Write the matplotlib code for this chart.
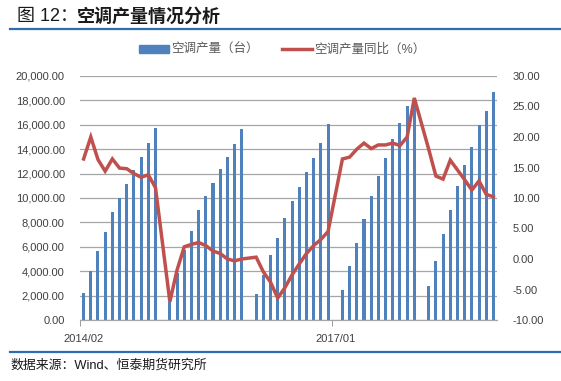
import numpy as np
import matplotlib.pyplot as plt
from matplotlib.lines import Line2D
from matplotlib.patches import Patch

plt.rcParams['font.family'] = ['Liberation Sans', 'Noto Sans CJK SC', 'DejaVu Sans']

# ============================================================
# Data (monthly cumulative, January not published -> None)
# ============================================================

years = [2014, 2015, 2016, 2017, 2018]

output_2014 = [None, 2186, 4016, 5656, 7213, 8852, 10000, 11148, 12295, 13388, 14508, 15716]
output_2015 = [None, 1500, 3825, 5738, 7295, 9016, 10164, 11230, 12377, 13361, 14426, 15650]
output_2016 = [None, 2131, 3689, 5328, 6721, 8361, 9754, 10902, 12131, 13279, 14508, 16049]
output_2017 = [None, 2459, 4426, 6311, 8279, 10164, 11803, 13279, 14836, 16148, 17541, 17800]
output_2018 = [None, 2787, 4836, 7077, 9016, 10984, 12705, 14180, 15984, 17131, 18664]

yoy_2014 = [None, 16.4, 20.0, 16.3, 14.4, 16.4, 14.9, 14.8, 14.0, 13.4, 13.8, 11.7]
yoy_2015 = [None, -7.0, -1.8, 2.0, 2.4, 2.7, 2.2, 1.3, 0.9, 0.0, -0.3, 0.0]
yoy_2016 = [None, 0.3, -2.1, -3.8, -6.4, -4.7, -2.6, -0.8, 0.9, 2.2, 3.2, 4.5]
yoy_2017 = [None, 16.4, 16.7, 18.0, 19.0, 18.1, 18.7, 18.7, 19.0, 18.6, 20.0, 26.4]
yoy_2018 = [None, 18.0, 13.6, 13.1, 16.2, 14.6, 13.0, 11.3, 12.8, 10.6, 10.2]

tick_labels = ["2014/02", "2017/01"]

# ============================================================
# Build series (starting at 2014/02)
# ============================================================

output = (output_2014 + output_2015 + output_2016 + output_2017 + output_2018)[1:]
yoy = (yoy_2014 + yoy_2015 + yoy_2016 + yoy_2017 + yoy_2018)[1:]
months = []
for y in years:
    for m in range(1, 13):
        months.append(f"{y}/{m:02d}")
months = months[1:len(output) + 1]

x = np.arange(len(output))
bar_x = [i for i, v in zip(x, output) if v is not None]
bar_v = [v for v in output if v is not None]
line_x = [i for i, v in zip(x, yoy) if v is not None]
line_v = [v for v in yoy if v is not None]

bar_color = "#4F81BD"
line_color = "#C0504D"
text_color = "#404040"

# ============================================================
# Plot
# ============================================================

fig = plt.figure(figsize=(5.61, 3.81), dpi=100)
ax = fig.add_axes([80 / 561, 61 / 381, 417 / 561, 244 / 381])
ax2 = ax.twinx()

ax.bar(bar_x, bar_v, width=0.42, color=bar_color, zorder=2)
ax2.plot(line_x, line_v, color=line_color, linewidth=2.5, solid_joinstyle='miter', zorder=3)

ax.set_xlim(-0.5, len(output) - 0.5)
ax.set_ylim(0, 20000)
ax2.set_ylim(-10, 30)

ax.set_yticks(np.arange(0, 20001, 2000))
ax.set_yticklabels([f"{v:,.2f}" for v in np.arange(0, 20001, 2000)])
ax2.set_yticks(np.arange(-10, 31, 5))
ax2.set_yticklabels([f"{v:.2f}" for v in np.arange(-10, 31, 5)])

ax.set_xticks([months.index(t) for t in tick_labels])
ax.set_xticklabels(tick_labels)
ax.set_xticks([months.index(t) - 0.5 for t in tick_labels], minor=True)
ax.tick_params(axis='x', which='major', length=0, pad=10, labelsize=8, labelcolor=text_color)
ax.tick_params(axis='x', which='minor', length=4, color="#8C8C8C")
ax.tick_params(axis='y', length=0, pad=11, labelsize=8, labelcolor=text_color)
ax2.tick_params(axis='y', length=0, pad=11, labelsize=8, labelcolor=text_color)

ax.grid(axis='y', color="#A6A6A6", linewidth=0.9, zorder=0)
ax.set_axisbelow(True)
for a in (ax, ax2):
    for side in ["top", "left", "right"]:
        a.spines[side].set_visible(False)
    a.spines["bottom"].set_color("#A6A6A6")

handles = [Patch(color=bar_color), Line2D([0], [0], color=line_color, linewidth=2.5)]
fig.legend(handles, ["空调产量（台）", "空调产量同比（%）"],
           loc="center", bbox_to_anchor=(282 / 561, 1 - 50 / 381), ncol=2,
           frameon=False, fontsize=9, labelcolor="#595959",
           handlelength=2.4, handleheight=0.6, handletextpad=0.15, columnspacing=1.9)

# Title and source
fig.text(17 / 561, 1 - 17 / 381, "图 12：", fontsize=13, va="center", color="#1a1a1a")
fig.text(77 / 561, 1 - 17 / 381, "空调产量情况分析", fontsize=13, va="center",
         fontweight="bold", color="#1a1a1a")
fig.add_artist(Line2D([10 / 561, 560 / 561], [1 - 29 / 381] * 2, color="#2E6DB4", linewidth=1.6))
fig.add_artist(Line2D([10 / 561, 560 / 561], [1 - 352 / 381] * 2, color="#2E6DB4", linewidth=1.6))
fig.text(10 / 561, 1 - 365 / 381, "数据来源：Wind、恒泰期货研究所", fontsize=9.3, va="center",
         color="#1a1a1a")

fig.savefig("out.png", dpi=100)
